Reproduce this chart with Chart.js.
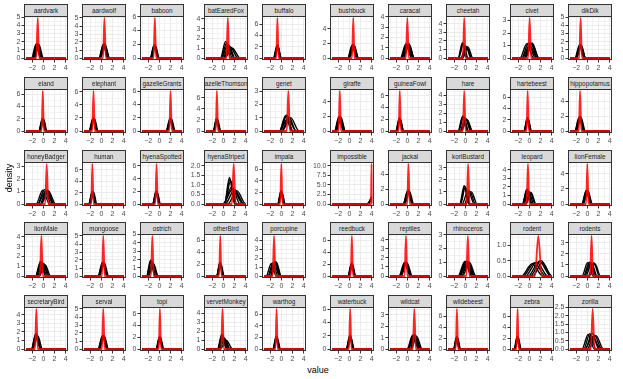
<!DOCTYPE html>
<html>
<head>
<meta charset="utf-8">
<script src="https://cdn.jsdelivr.net/npm/chart.js@4.4.1/dist/chart.umd.min.js"></script>
<style>
  body { margin: 0; background: #fff; }
  #page { position: relative; width: 623px; height: 379px; overflow: hidden; font-family: 'Liberation Sans', Arial, sans-serif; }
  .strip { position: absolute; box-sizing: border-box; height: 13px; background: #d9d9d9; border: 1px solid #333;
           display: flex; justify-content: center; align-items: center; overflow: hidden; white-space: nowrap;
           font-size: 6.3px; color: #1a1a1a; }
  canvas { position: absolute; }
  .title { position: absolute; font-size: 9px; color: #000; white-space: nowrap; }
</style>
</head>
<body>
<div id="page"></div>
<script>
// facet names, in ggplot order (5 rows x 10 columns)
const panelNames = [
  'aardvark', 'aardwolf', 'baboon', 'batEaredFox', 'buffalo', 'bushbuck', 'caracal', 'cheetah', 'civet', 'dikDik',
  'eland', 'elephant', 'gazelleGrants', 'gazelleThomsons', 'genet', 'giraffe', 'guineaFowl', 'hare', 'hartebeest', 'hippopotamus',
  'honeyBadger', 'human', 'hyenaSpotted', 'hyenaStriped', 'impala', 'impossible', 'jackal', 'koriBustard', 'leopard', 'lionFemale',
  'lionMale', 'mongoose', 'ostrich', 'otherBird', 'porcupine', 'reedbuck', 'reptiles', 'rhinoceros', 'rodent', 'rodents',
  'secretaryBird', 'serval', 'topi', 'vervetMonkey', 'warthog', 'waterbuck', 'wildcat', 'wildebeest', 'zebra', 'zorilla'
];

// y break step of each facet (free y scales)
const yStep = [
  1, 1, 2, 1, 2, 2, 1, 1, 1, 1,
  2, 2, 2, 2, 1, 2, 2, 1, 2, 2,
  1, 2, 2, 0.5, 2, 2.5, 2, 1, 1, 2,
  1, 1, 1, 2, 1, 2, 1, 1, 0.5, 1,
  1, 1, 2, 1, 2, 2, 1, 2, 2, 0.5
];

// red curve: location of the spike, its height, half width at the foot
const redPeakX = [
  -1.0, 0.55, -0.8, 0.8, -0.7, 0.7, 0.0, -0.2, 0.05, -1.2,
  -0.1, -1.4, 2.0, -1.15, 1.25, -1.7, -1.35, -0.2, -0.3, -1.3,
  0.6, -1.6, -0.5, 1.85, 0.0, 3.97, 0.2, 0.5, -0.25, 0.0,
  -0.35, 0.35, -1.25, -0.55, -1.3, 0.45, -0.25, 0.45, 1.6, 0.75,
  -1.25, 0.35, 0.1, -0.15, -0.85, 0.15, 1.25, -1.5, -2.1, 0.95
];
const redPeakY = [
  4.9, 5.0, 5.8, 4.1, 7.1, 5.5, 3.9, 4.7, 3.2, 4.9,
  6.5, 6.1, 6.0, 7.2, 3.0, 5.5, 6.8, 4.5, 7.1, 5.4,
  3.2, 7.0, 6.3, 2.1, 6.9, 10.5, 5.4, 3.3, 4.7, 5.3,
  4.1, 5.0, 4.8, 6.7, 4.5, 6.7, 4.4, 2.9, 1.3, 3.6,
  4.7, 5.0, 6.8, 4.5, 6.9, 6.0, 3.5, 7.3, 7.3, 2.4
];
const redSpread = [
  0.25, 0.25, 0.22, 0.25, 0.2, 0.22, 0.26, 0.24, 0.26, 0.24,
  0.2, 0.22, 0.22, 0.2, 0.28, 0.22, 0.2, 0.24, 0.2, 0.22,
  0.28, 0.2, 0.22, 0.32, 0.2, 0.12, 0.22, 0.26, 0.24, 0.22,
  0.26, 0.24, 0.24, 0.2, 0.24, 0.2, 0.24, 0.28, 0.6, 0.26,
  0.24, 0.24, 0.2, 0.24, 0.2, 0.22, 0.26, 0.2, 0.2, 0.32
];

// black bootstrap curves of each facet: [peak x, peak density, half width at the foot, right half width]
const blackPeaks = [
  [[-1.3, 1.7, 0.8], [-1.15, 1.6, 0.85], [-0.95, 1.75, 0.8], [-0.8, 1.65, 0.8], [-1.05, 1.5, 0.9], [-1.2, 1.75, 0.75]],
  [[0.35, 1.7, 0.8], [0.5, 1.8, 0.8], [0.65, 1.75, 0.8], [0.55, 1.6, 0.9], [0.4, 1.75, 0.75], [0.6, 1.65, 0.85]],
  [[-0.95, 1.85, 0.7], [-0.8, 1.95, 0.65], [-0.7, 1.8, 0.7], [-0.85, 1.7, 0.75], [-0.9, 1.9, 0.7]],
  [[0.4, 1.7, 0.9], [0.6, 1.55, 1.0], [1.0, 1.3, 1.1], [1.3, 1.1, 1.3], [1.6, 1.0, 1.4], [0.8, 1.4, 1.1]],
  [[-0.8, 2.2, 0.6], [-0.7, 2.3, 0.55], [-0.6, 2.1, 0.6], [-0.75, 2.0, 0.65], [-0.65, 2.25, 0.6]],
  [[0.5, 1.8, 0.8], [0.65, 1.85, 0.75], [0.85, 1.75, 0.8], [0.7, 1.6, 0.9], [0.55, 1.7, 0.8], [0.8, 1.8, 0.8]],
  [[-0.25, 1.4, 1.0], [0.0, 1.35, 1.05], [0.25, 1.35, 1.0], [0.1, 1.25, 1.1], [-0.15, 1.3, 1.0], [0.3, 1.4, 0.95]],
  [[-0.5, 1.8, 0.8], [-0.35, 1.6, 0.85], [0.25, 1.35, 0.9], [0.45, 1.3, 0.9], [0.1, 1.4, 0.9], [-0.45, 1.7, 0.8]],
  [[-0.45, 1.15, 1.2], [-0.15, 1.2, 1.2], [0.25, 1.2, 1.2], [0.45, 1.15, 1.25], [0.05, 1.05, 1.3], [0.5, 1.2, 1.2]],
  [[-1.4, 1.6, 0.8], [-1.25, 1.65, 0.8], [-1.1, 1.6, 0.8], [-1.3, 1.5, 0.9], [-1.15, 1.55, 0.85]],

  [[-0.2, 2.0, 0.6], [-0.05, 2.05, 0.6], [0.05, 1.9, 0.6], [-0.1, 1.8, 0.7], [-0.15, 1.95, 0.6]],
  [[-1.5, 1.95, 0.7], [-1.35, 2.0, 0.65], [-1.25, 1.9, 0.7], [-1.4, 1.75, 0.8], [-1.45, 1.9, 0.7]],
  [[1.9, 1.9, 0.7], [2.05, 1.95, 0.65], [2.15, 1.85, 0.7], [2.0, 1.7, 0.8], [1.95, 1.85, 0.7]],
  [[-1.25, 2.2, 0.55], [-1.15, 2.3, 0.55], [-1.05, 2.15, 0.6], [-1.15, 2.0, 0.65], [-1.2, 2.25, 0.55]],
  [[0.75, 1.15, 1.1], [0.95, 1.2, 1.1], [1.35, 1.05, 1.3], [1.65, 1.0, 1.5], [1.15, 0.95, 1.5], [0.85, 1.1, 1.2]],
  [[-1.85, 2.0, 0.8], [-1.7, 2.05, 0.75], [-1.5, 1.9, 0.8], [-1.6, 1.75, 0.9], [-1.8, 1.95, 0.8]],
  [[-1.45, 2.15, 0.6], [-1.35, 2.25, 0.55], [-1.25, 2.1, 0.6], [-1.35, 1.95, 0.7], [-1.4, 2.2, 0.6]],
  [[-0.45, 1.7, 0.85], [-0.3, 1.6, 0.9], [0.15, 1.35, 1.0], [0.3, 1.3, 1.0], [0.0, 1.45, 0.95], [-0.4, 1.65, 0.85]],
  [[-0.4, 2.25, 0.55], [-0.3, 2.35, 0.55], [-0.2, 2.2, 0.6], [-0.3, 2.0, 0.65], [-0.35, 2.3, 0.55]],
  [[-1.45, 1.85, 0.8], [-1.3, 1.95, 0.75], [-1.15, 1.85, 0.8], [-1.3, 1.7, 0.9], [-1.4, 1.9, 0.8]],

  [[-0.1, 1.1, 1.2], [0.2, 1.15, 1.2], [0.6, 1.1, 1.2], [0.9, 1.05, 1.3], [0.4, 1.0, 1.4], [0.75, 1.1, 1.2]],
  [[-1.65, 2.15, 0.6], [-1.5, 2.25, 0.55], [-1.4, 2.1, 0.6], [-1.55, 1.95, 0.65], [-1.6, 2.2, 0.6]],
  [[-0.6, 2.0, 0.6], [-0.5, 2.05, 0.6], [-0.4, 1.95, 0.6], [-0.5, 1.8, 0.7], [-0.55, 2.0, 0.6]],
  [[1.1, 1.4, 0.9], [1.3, 1.2, 1.1], [1.5, 0.9, 1.5], [2.0, 0.75, 1.7], [2.4, 0.7, 1.6], [1.7, 0.8, 1.8], [1.2, 1.3, 1.0]],
  [[-0.1, 2.15, 0.55], [0.0, 2.25, 0.55], [0.1, 2.1, 0.6], [0.0, 1.95, 0.65], [-0.05, 2.2, 0.55]],
  [[4.0, 2.0, 0.8, 0], [4.0, 1.6, 0.9, 0], [4.0, 1.2, 0.75, 0]],
  [[0.05, 1.8, 0.8], [0.2, 1.85, 0.75], [0.35, 1.75, 0.8], [0.15, 1.65, 0.9], [0.1, 1.8, 0.8]],
  [[-0.2, 1.5, 0.8], [0.0, 1.4, 0.85], [0.8, 1.05, 1.0], [1.1, 1.0, 1.0], [0.5, 1.1, 1.1], [-0.1, 1.45, 0.85]],
  [[-0.45, 1.75, 0.8], [-0.3, 1.65, 0.85], [0.15, 1.4, 0.9], [0.3, 1.35, 0.9], [-0.1, 1.5, 0.9], [-0.4, 1.7, 0.8]],
  [[-0.2, 1.8, 0.8], [-0.05, 1.85, 0.75], [0.1, 1.75, 0.8], [0.0, 1.6, 0.9], [-0.15, 1.8, 0.8]],

  [[-0.5, 1.5, 0.9], [-0.3, 1.45, 0.95], [0.1, 1.25, 1.0], [0.3, 1.15, 1.0], [-0.1, 1.35, 1.0], [-0.45, 1.5, 0.9]],
  [[0.2, 1.7, 0.8], [0.35, 1.75, 0.8], [0.5, 1.7, 0.8], [0.35, 1.55, 0.9], [0.25, 1.7, 0.8]],
  [[-1.55, 1.9, 0.75], [-1.4, 1.8, 0.8], [-1.05, 1.5, 0.85], [-1.2, 1.6, 0.85], [-1.5, 1.85, 0.75]],
  [[-0.65, 2.2, 0.55], [-0.55, 2.3, 0.55], [-0.45, 2.15, 0.6], [-0.55, 2.0, 0.65], [-0.6, 2.25, 0.55]],
  [[-1.8, 1.4, 0.9], [-1.5, 1.5, 0.9], [-1.1, 1.6, 0.9], [-0.9, 1.55, 0.9], [-1.3, 1.4, 1.0], [-1.0, 1.6, 0.9]],
  [[0.35, 2.05, 0.6], [0.45, 2.15, 0.55], [0.55, 2.0, 0.6], [0.45, 1.9, 0.65], [0.4, 2.1, 0.6]],
  [[-0.5, 1.5, 1.0], [-0.3, 1.55, 1.0], [-0.1, 1.5, 1.0], [-0.25, 1.4, 1.1], [-0.4, 1.5, 1.0]],
  [[-0.1, 1.05, 1.2], [0.2, 1.1, 1.2], [0.5, 1.05, 1.2], [0.7, 1.0, 1.2], [0.3, 0.95, 1.3], [0.05, 1.05, 1.2]],
  [[0.5, 0.4, 1.9], [0.9, 0.43, 2.0], [1.3, 0.45, 2.0], [1.8, 0.48, 2.0], [2.1, 0.5, 1.9], [2.3, 0.43, 1.7]],
  [[0.05, 1.2, 1.0], [0.35, 1.25, 1.0], [0.75, 1.2, 1.0], [1.15, 1.2, 1.0], [1.35, 1.1, 1.0], [0.55, 1.15, 1.05]],

  [[-1.35, 1.8, 0.8], [-1.2, 1.75, 0.8], [-1.0, 1.55, 0.85], [-1.25, 1.6, 0.85], [-1.3, 1.8, 0.8]],
  [[0.2, 1.65, 0.8], [0.35, 1.7, 0.8], [0.5, 1.65, 0.8], [0.35, 1.5, 0.9], [0.25, 1.65, 0.8]],
  [[0.0, 2.05, 0.6], [0.1, 2.15, 0.55], [0.2, 2.0, 0.6], [0.1, 1.9, 0.65], [0.05, 2.1, 0.6]],
  [[-0.25, 1.7, 0.8], [-0.1, 1.5, 0.85], [0.25, 1.15, 1.0], [0.55, 0.95, 1.1], [0.05, 1.3, 0.95], [-0.2, 1.6, 0.8]],
  [[-0.95, 2.1, 0.55], [-0.85, 2.2, 0.55], [-0.75, 2.05, 0.6], [-0.85, 1.9, 0.65], [-0.9, 2.15, 0.55]],
  [[0.05, 1.95, 0.6], [0.15, 2.05, 0.6], [0.25, 1.9, 0.6], [0.15, 1.8, 0.7], [0.1, 2.0, 0.6]],
  [[0.95, 1.2, 1.0], [1.15, 1.25, 1.0], [1.45, 1.2, 1.0], [1.65, 1.1, 1.0], [1.25, 1.1, 1.1], [1.05, 1.2, 1.0]],
  [[-1.6, 2.15, 0.5], [-1.5, 2.25, 0.5], [-1.4, 2.1, 0.55], [-1.5, 1.95, 0.6], [-1.55, 2.2, 0.5]],
  [[-2.2, 2.2, 0.5], [-2.1, 2.3, 0.5], [-2.0, 2.15, 0.55], [-2.1, 2.0, 0.6], [-2.15, 2.25, 0.5]],
  [[0.15, 0.88, 1.1], [0.45, 0.92, 1.1], [0.85, 0.95, 1.2], [1.25, 0.85, 1.3], [1.55, 0.8, 1.3], [0.95, 0.75, 1.4]]
];

// shared x axis
const xLimits = [-3.45, 4.4];
const dataRange = [-3.1, 4.05];
const xTicks = [-3, -2, -1, 0, 1, 2, 3, 4];
const xLabelled = [-2, 0, 2, 4];

// page geometry
const colLeft = [24, 82, 140, 204, 262, 330, 388, 446, 510, 568];
const rowTop = [4, 77, 150, 222, 295];
const plotW = 44, plotH = 44, stripH = 12, axisW = 22, axisH = 13, pad = 6;

const page = document.getElementById('page');

function fmtNum(v, step) {
  const s = step % 1 === 0 ? String(Math.round(v)) : v.toFixed(1);
  return s.replace('-', '\u2212');
}

function curve(px, py, w, wr) {
  if (wr === undefined) wr = w;
  const pts = [];
  const left = px - w, right = px + wr;
  if (left > dataRange[0]) pts.push({ x: dataRange[0], y: 0 });
  pts.push({ x: Math.max(left, dataRange[0]), y: 0 });
  pts.push({ x: px, y: py });
  if (wr > 0) {
    pts.push({ x: Math.min(right, dataRange[1]), y: 0 });
    if (right < dataRange[1]) pts.push({ x: dataRange[1], y: 0 });
  }
  return pts;
}

const borderPlugin = {
  id: 'panelBorder',
  afterDraw(chart) {
    const a = chart.chartArea, c = chart.ctx;
    c.save();
    c.strokeStyle = '#333333';
    c.lineWidth = 1;
    c.strokeRect(a.left + 0.5, a.top + 0.5, a.right - a.left - 1, a.bottom - a.top - 1);
    c.restore();
  }
};

panelNames.forEach((name, i) => {
  const r = Math.floor(i / 10), k = i % 10;
  const L = colLeft[k], T = rowTop[r];

  const strip = document.createElement('div');
  strip.className = 'strip';
  strip.style.left = L + 'px';
  strip.style.top = T + 'px';
  strip.style.width = plotW + 'px';
  strip.textContent = name;
  page.appendChild(strip);

  const canvas = document.createElement('canvas');
  canvas.width = axisW + plotW + pad;
  canvas.height = pad + plotH + axisH;
  canvas.style.left = (L - axisW) + 'px';
  canvas.style.top = (T + stripH - pad) + 'px';
  page.appendChild(canvas);

  const step = yStep[i];
  const peak = Math.max(redPeakY[i], ...blackPeaks[i].map(b => b[1]));
  const yMax = peak * 1.05, yMin = -peak * 0.05;
  const yTicks = [];
  for (let n = 0; n * step / 2 <= yMax; n++) yTicks.push(n * step / 2);
  const yMajor = v => Math.abs(v / step - Math.round(v / step)) < 1e-6;
  const xMajor = v => xLabelled.includes(v);

  const datasets = [{
    data: curve(redPeakX[i], redPeakY[i], redSpread[i], name === 'impossible' ? 0.03 : redSpread[i]),
    borderColor: 'rgba(255,0,0,0.85)',
    borderWidth: 1.8
  }];
  blackPeaks[i].forEach(b => {
    datasets.push({ data: curve(b[0], b[1], b[2], b[3]), borderColor: '#000000', borderWidth: 1.4 });
  });

  new Chart(canvas.getContext('2d'), {
    type: 'line',
    data: { datasets },
    options: {
      responsive: false,
      animation: false,
      layout: { padding: { top: pad, right: pad, left: 0, bottom: 0 } },
      elements: { point: { radius: 0 }, line: { cubicInterpolationMode: 'monotone', fill: false } },
      plugins: { legend: { display: false }, tooltip: { enabled: false } },
      scales: {
        x: {
          type: 'linear', min: xLimits[0], max: xLimits[1],
          afterBuildTicks: s => { s.ticks = xTicks.map(v => ({ value: v })); },
          afterFit: s => { s.height = axisH; },
          ticks: {
            autoSkip: false, maxRotation: 0, padding: 1, color: '#4d4d4d',
            font: { family: "'Liberation Sans', Arial, sans-serif", size: 7 },
            callback: v => xMajor(v) ? fmtNum(v, 1) : ''
          },
          grid: {
            color: '#ebebeb', tickLength: 2.5,
            lineWidth: c => c.tick && xMajor(c.tick.value) ? 1 : 0.6,
            tickColor: c => c.tick && xMajor(c.tick.value) ? '#333333' : 'rgba(0,0,0,0)'
          },
          border: { display: false }
        },
        y: {
          type: 'linear', min: yMin, max: yMax,
          afterBuildTicks: s => { s.ticks = yTicks.map(v => ({ value: v })); },
          afterFit: s => { s.width = axisW; },
          ticks: {
            autoSkip: false, padding: 1, color: '#4d4d4d',
            font: { family: "'Liberation Sans', Arial, sans-serif", size: 7 },
            callback: v => yMajor(v) ? fmtNum(v, step) : ''
          },
          grid: {
            color: '#ebebeb', tickLength: 2.5,
            lineWidth: c => c.tick && yMajor(c.tick.value) ? 1 : 0.6,
            tickColor: c => c.tick && yMajor(c.tick.value) ? '#333333' : 'rgba(0,0,0,0)'
          },
          border: { display: false }
        }
      }
    },
    plugins: [borderPlugin]
  });
});

const xt = document.createElement('div');
xt.className = 'title';
xt.textContent = 'value';
xt.style.left = '318px';
xt.style.top = '370px';
xt.style.transform = 'translate(-50%, -50%)';
page.appendChild(xt);

const yt = document.createElement('div');
yt.className = 'title';
yt.textContent = 'density';
yt.style.left = '9px';
yt.style.top = '178px';
yt.style.transform = 'translate(-50%, -50%) rotate(-90deg)';
page.appendChild(yt);
</script>
</body>
</html>
